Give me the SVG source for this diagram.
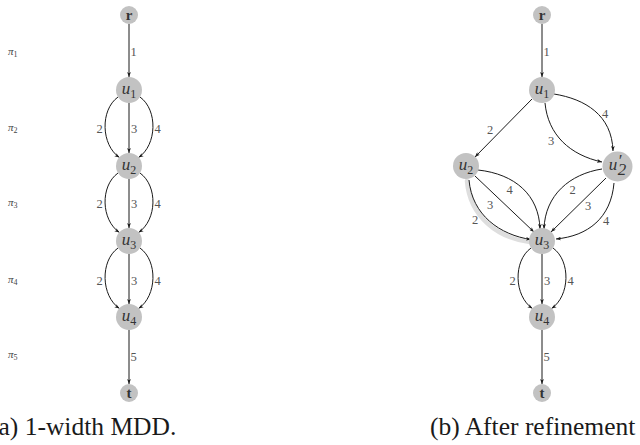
<svg xmlns="http://www.w3.org/2000/svg" width="640" height="445" viewBox="0 0 640 445">
<defs>
<style>
.nd{fill:#c2c2c2;}
.nl{font-family:"Liberation Serif",serif;font-size:17px;font-style:italic;fill:#333;text-anchor:middle;}
.nb{font-family:"Liberation Serif",serif;font-size:15px;font-weight:bold;fill:#333;text-anchor:middle;}
.sub{font-size:12px;font-style:normal;}
.e{fill:none;stroke:#1a1a1a;stroke-width:1;marker-end:url(#ah);}
.el{font-family:"Liberation Serif",serif;font-size:12.5px;fill:#555;text-anchor:middle;}
.pl{font-family:"Liberation Serif",serif;font-size:11px;font-style:italic;fill:#444;}
.cap{font-family:"Liberation Serif",serif;font-size:25.5px;fill:#1a1a1a;}
</style>
<marker id="ah" viewBox="0 0 8 6" refX="8" refY="3" markerWidth="5" markerHeight="4" markerUnits="userSpaceOnUse" orient="auto">
<path d="M0,0 L8,3 L0,6 L2,3 Z" fill="#1a1a1a"/>
</marker>
</defs>

<g id="layers">
<text class="pl" x="8" y="55">π<tspan font-size="8" dy="2" font-style="normal">1</tspan></text>
<text class="pl" x="8" y="131">π<tspan font-size="8" dy="2" font-style="normal">2</tspan></text>
<text class="pl" x="8" y="206">π<tspan font-size="8" dy="2" font-style="normal">3</tspan></text>
<text class="pl" x="8" y="283">π<tspan font-size="8" dy="2" font-style="normal">4</tspan></text>
<text class="pl" x="8" y="358">π<tspan font-size="8" dy="2" font-style="normal">5</tspan></text>
</g>

<g id="connectors">
<!-- left graph -->
<line class="e" x1="129" y1="24" x2="129" y2="77"/>
<path class="e" d="M118,97 C100,110 101,145 119.5,157.5"/>
<line class="e" x1="129" y1="103" x2="129" y2="153"/>
<path class="e" d="M140,97 C158,110 157,145 138.5,157.5"/>
<path class="e" d="M118,173 C100,186 101,220 119.5,232.5"/>
<line class="e" x1="129" y1="179" x2="129" y2="228"/>
<path class="e" d="M140,173 C158,186 157,220 138.5,232.5"/>
<path class="e" d="M118,248 C100,261 101,296 119.5,308.5"/>
<line class="e" x1="129" y1="254" x2="129" y2="304"/>
<path class="e" d="M140,248 C158,261 157,296 138.5,308.5"/>
<line class="e" x1="129" y1="330" x2="129" y2="384"/>

<!-- right graph -->
<line class="e" x1="542" y1="24" x2="542" y2="77"/>
<line class="e" x1="532" y1="99" x2="475" y2="157"/>
<path class="e" d="M545,103 C548,135 570,155 602,162"/>
<path class="e" d="M554,94 C585,99 612,115 613,151"/>
<path d="M467,181 C470,217 498,238 530,242" fill="none" stroke="#dedede" stroke-width="4.5" stroke-linecap="round"/>
<path class="e" d="M469,180 C472,215 500,235 531,239.5"/>
<line class="e" x1="475" y1="176" x2="534" y2="232"/>
<path class="e" d="M478,170 C515,174 539,195 540,229"/>
<path class="e" d="M602,169 C570,174 545,195 544,229"/>
<line class="e" x1="606" y1="178" x2="551" y2="232"/>
<path class="e" d="M614,183 C611,218 588,236 556,239"/>
<path class="e" d="M531,248 C513,261 514,296 532.5,308.5"/>
<line class="e" x1="542" y1="254" x2="542" y2="304"/>
<path class="e" d="M553,248 C571,261 570,296 551.5,308.5"/>
<line class="e" x1="542" y1="330" x2="542" y2="384"/>

<!-- edge labels left -->
<text class="el" x="133.5" y="56">1</text>
<text class="el" x="99.5" y="133">2</text>
<text class="el" x="134" y="133">3</text>
<text class="el" x="157.5" y="133">4</text>
<text class="el" x="99.5" y="208">2</text>
<text class="el" x="134" y="208">3</text>
<text class="el" x="157.5" y="208">4</text>
<text class="el" x="99.5" y="285">2</text>
<text class="el" x="134" y="285">3</text>
<text class="el" x="157.5" y="285">4</text>
<text class="el" x="133.5" y="361">5</text>

<!-- edge labels right -->
<text class="el" x="546.5" y="56">1</text>
<text class="el" x="490" y="133.5">2</text>
<text class="el" x="551" y="145">3</text>
<text class="el" x="605" y="117.5">4</text>
<text class="el" x="475" y="224">2</text>
<text class="el" x="490" y="209">3</text>
<text class="el" x="509.5" y="193.5">4</text>
<text class="el" x="572.5" y="194">2</text>
<text class="el" x="588" y="210">3</text>
<text class="el" x="606" y="225">4</text>
<text class="el" x="512.5" y="284.5">2</text>
<text class="el" x="547" y="284.5">3</text>
<text class="el" x="570.5" y="284.5">4</text>
<text class="el" x="546.5" y="361">5</text>
</g>

<!-- left nodes -->
<g id="a_r"><circle class="nd" cx="129" cy="15" r="9"/><text class="nb" x="129" y="19.5">r</text></g>
<g id="a_u1"><circle class="nd" cx="129" cy="90" r="13"/><text class="nl" x="129" y="93.5">u<tspan class="sub" dy="4">1</tspan></text></g>
<g id="a_u2"><circle class="nd" cx="129" cy="166" r="13"/><text class="nl" x="129" y="169.5">u<tspan class="sub" dy="4">2</tspan></text></g>
<g id="a_u3"><circle class="nd" cx="129" cy="241" r="13"/><text class="nl" x="129" y="244.5">u<tspan class="sub" dy="4">3</tspan></text></g>
<g id="a_u4"><circle class="nd" cx="129" cy="317" r="13"/><text class="nl" x="129" y="320.5">u<tspan class="sub" dy="4">4</tspan></text></g>
<g id="a_t"><circle class="nd" cx="129" cy="393" r="9"/><text class="nb" x="129" y="398">t</text></g>

<!-- right nodes -->
<g id="b_r"><circle class="nd" cx="542" cy="15" r="9"/><text class="nb" x="542" y="19.5">r</text></g>
<g id="b_u1"><circle class="nd" cx="542" cy="90" r="13"/><text class="nl" x="542" y="93.5">u<tspan class="sub" dy="4">1</tspan></text></g>
<g id="b_u2"><circle class="nd" cx="466" cy="166" r="13"/><text class="nl" x="466" y="169.5">u<tspan class="sub" dy="4">2</tspan></text></g>
<g id="b_u2p"><circle class="nd" cx="617.5" cy="166.5" r="15"/><text class="nl" x="613" y="170">u</text><text class="nl" x="619.5" y="166" font-size="14" font-style="normal">′</text><text class="nl" x="622" y="174.5" font-size="12" font-style="normal">2</text></g>
<g id="b_u3"><circle class="nd" cx="542" cy="241" r="13"/><text class="nl" x="542" y="244.5">u<tspan class="sub" dy="4">3</tspan></text></g>
<g id="b_u4"><circle class="nd" cx="542" cy="317" r="13"/><text class="nl" x="542" y="320.5">u<tspan class="sub" dy="4">4</tspan></text></g>
<g id="b_t"><circle class="nd" cx="542" cy="393" r="9"/><text class="nb" x="542" y="398">t</text></g>

<g id="captions">
<text class="cap" x="-10" y="435">(a) 1-width MDD.</text>
<text class="cap" x="430" y="435">(b) After refinement</text>
</g>
</svg>
